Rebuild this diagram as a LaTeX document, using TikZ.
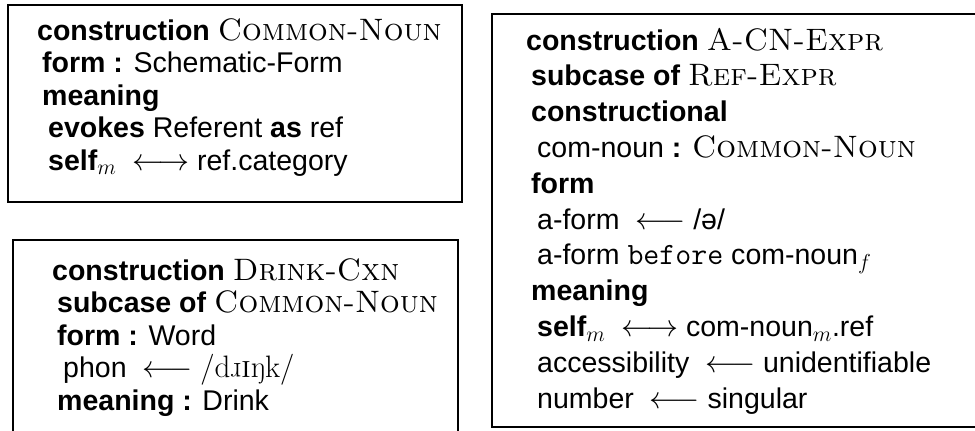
\documentclass[tikz,border=0pt]{standalone}
\usepackage{fix-cm}
\usepackage{graphicx}
\usepackage{fontspec}
\setsansfont{Liberation Sans}[Scale=0.92]
\newcommand{\kw}[1]{\textbf{#1}}
\newcommand{\nm}[1]{\textrm{\scshape #1}}
\newcommand{\lar}{\ \ $\longleftarrow$\ }
\newcommand{\lrar}{\ \ $\longleftrightarrow$\ }
\newcommand{\turnr}{\rotatebox[origin=c]{180}{r}}
\tikzset{
  ln/.style={anchor=base west, inner sep=0pt, font=\fontsize{31}{36}\selectfont\sffamily},
  frame/.style={draw, line width=2.2pt},
  bigframe/.style={draw, line width=2.8pt}
}
\begin{document}
\begin{tikzpicture}[x=1pt,y=-1pt]
\useasboundingbox (0,0) rectangle (975,431);
\clip (0,0) rectangle (975,431);
% box 1
\draw[frame] (8,5) rectangle (462,202);
\node[ln] (a1) at (37,40) {\kw{construction} \nm{Common-Noun}};
\node[ln] (a2) at (42,72.5) {\kw{form :} Schematic-Form};
\node[ln] (a3) at (42,105) {\kw{meaning}};
\node[ln] (a4) at (48,137.5) {\kw{evokes} Referent \kw{as} ref};
\node[ln] (a5) at (48,170) {\kw{self}$_m$\lrar ref.category};
% box 2
\draw[frame] (13,240) rectangle (458,445);
\node[ln] (b1) at (52,280) {\kw{construction} \nm{Drink-Cxn}};
\node[ln] (b2) at (57,312.5) {\kw{subcase of} \nm{Common-Noun}};
\node[ln] (b3) at (57,345) {\kw{form :} Word};
\node[ln] (b4) at (63,377.5) {phon\lar\textrm{/d\turnr\textsc{i}ŋk/}};
\node[ln] (b5) at (57,410) {\kw{meaning :} Drink};
% box 3
\draw[bigframe] (492,14) rectangle (985,427);
\node[ln] (c1) at (526,50) {\kw{construction} \nm{A-CN-Expr}};
\node[ln] (c2) at (531,85.8) {\kw{subcase of} \nm{Ref-Expr}};
\node[ln] (c3) at (531,121.6) {\kw{constructional}};
\node[ln] (c4) at (537,157.4) {com-noun \kw{:} \nm{Common-Noun}};
\node[ln] (c5) at (531,193.2) {\kw{form}};
\node[ln] (c6) at (537,229) {a-form\lar/ə/};
\node[ln] (c7) at (537,264.8) {a-form \texttt{before} com-noun$_f$};
\node[ln] (c8) at (531,300.6) {\kw{meaning}};
\node[ln] (c9) at (537,336.4) {\kw{self}$_m$\lrar com-noun$_m$.ref};
\node[ln] (c10) at (537,372.2) {accessibility\lar unidentifiable};
\node[ln] (c11) at (537,408) {number\lar singular};
\end{tikzpicture}
\end{document}
